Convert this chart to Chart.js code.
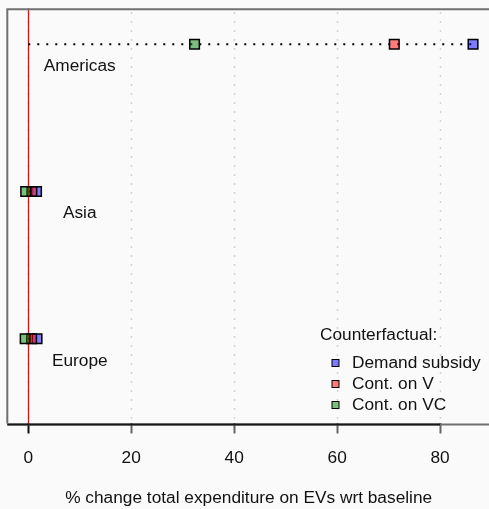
<!DOCTYPE html>
<html>
<head>
<meta charset="utf-8">
<script src="https://cdn.jsdelivr.net/npm/chart.js@4/dist/chart.umd.min.js"></script>
<style>
  html, body { margin: 0; padding: 0; background: #fafafa; }
  #wrap { width: 489px; height: 509px; }
</style>
</head>
<body>
<div id="wrap"><canvas id="c" width="489" height="509"></canvas></div>
<script>
// Regions, top to bottom, and their row positions on the value axis
const regions = ['Americas', 'Asia', 'Europe'];
const rowPos = [3, 2, 1];

// % change in total EV expenditure relative to baseline, per counterfactual
const demandSubsidy = [86.4, 1.6, 1.7];
const contOnV       = [71.1, 0.7, 0.65];
const contOnVC      = [32.3, -0.5, -0.6];

const seriesNames = ['Demand subsidy', 'Cont. on V', 'Cont. on VC'];
const xTicks = [0, 20, 40, 60, 80];
const legendTitle = 'Counterfactual:';
const xTitle = '% change total expenditure on EVs wrt baseline';

const FONT = 'Liberation Sans, Arial, Helvetica, sans-serif';
const FS = 17.3;
const fills = ['rgba(0,0,255,0.5)', 'rgba(255,0,0,0.5)', 'rgba(0,128,0,0.5)'];

const seriesValues = [demandSubsidy, contOnV, contOnVC];

// Dotted leader line for each region, from zero to its largest value
const leaderSets = regions.map((r, i) => ({
  type: 'line',
  label: 'leader-' + r,
  data: [{x: 0, y: rowPos[i]}, {x: Math.max(demandSubsidy[i], contOnV[i], contOnVC[i]), y: rowPos[i]}],
  borderColor: '#000',
  borderWidth: 2,
  borderDash: [2, 7],
  pointRadius: 0,
  fill: false,
  order: 10
}));

const pointSets = seriesNames.map((name, s) => ({
  type: 'scatter',
  label: name,
  data: regions.map((r, i) => ({x: seriesValues[s][i], y: rowPos[i]})),
  pointStyle: 'rect',
  pointRadius: 6.8,
  pointHoverRadius: 6.8,
  backgroundColor: fills[s],
  borderColor: '#000',
  borderWidth: 1.5,
  order: 5 - s
}));

// Let the plot run to the right edge of the canvas (frame's right side is off-canvas)
const fullWidth = {
  id: 'fullWidth',
  afterLayout(chart) {
    const x = chart.scales.x;
    const right = chart.width;
    x.right = right;
    x.width = right - x.left;
    chart.chartArea.right = right;
    chart.chartArea.width = right - chart.chartArea.left;
    x.configure();
  }
};

const decor = {
  id: 'decor',
  beforeDatasetsDraw(chart) {
    const {ctx, chartArea: a, scales: {x}} = chart;
    ctx.save();
    // light dotted vertical grid
    ctx.strokeStyle = '#c8c8c8';
    ctx.lineWidth = 1.5;
    ctx.setLineDash([1.5, 7.5]);
    xTicks.forEach(v => {
      const px = Math.round(x.getPixelForValue(v)) + 0.5;
      ctx.beginPath();
      ctx.moveTo(px, a.top + 4);
      ctx.lineTo(px, a.bottom);
      ctx.stroke();
    });
    ctx.setLineDash([]);
    // zero reference line
    const z = Math.round(x.getPixelForValue(0)) + 0.5;
    ctx.strokeStyle = '#ff0000';
    ctx.lineWidth = 1.3;
    ctx.beginPath();
    ctx.moveTo(z, a.top);
    ctx.lineTo(z, a.bottom);
    ctx.stroke();
    // region labels
    ctx.fillStyle = '#111';
    ctx.font = FS + 'px ' + FONT;
    ctx.textAlign = 'center';
    ctx.textBaseline = 'middle';
    const y = chart.scales.y;
    regions.forEach((r, i) => {
      ctx.fillText(r, x.getPixelForValue(10), y.getPixelForValue(rowPos[i] - 0.15));
    });
    ctx.restore();
  },
  afterDraw(chart) {
    const {ctx, chartArea: a, scales: {x}} = chart;
    ctx.save();
    // frame: grey left and top edges
    ctx.strokeStyle = '#707070';
    ctx.lineWidth = 2;
    ctx.beginPath();
    ctx.moveTo(a.left - 1, a.bottom);
    ctx.lineTo(a.left - 1, a.top + 1);
    ctx.lineTo(a.right + 2, a.top + 1);
    ctx.stroke();
    // bottom edge: grey frame with dark axis line over the tick range
    ctx.beginPath();
    ctx.moveTo(a.left - 1, a.bottom + 1);
    ctx.lineTo(a.right + 2, a.bottom + 1);
    ctx.stroke();
    ctx.strokeStyle = '#1a1a1a';
    ctx.beginPath();
    ctx.moveTo(a.left - 1, a.bottom + 1);
    ctx.lineTo(x.getPixelForValue(xTicks[xTicks.length - 1]), a.bottom + 1);
    ctx.stroke();
    // legend
    const lx = 320, ly = 335;
    ctx.font = FS + 'px ' + FONT;
    ctx.fillStyle = '#111';
    ctx.textAlign = 'left';
    ctx.textBaseline = 'middle';
    ctx.fillText(legendTitle, lx, ly);
    seriesNames.forEach((name, s) => {
      const yy = ly + 28 + s * 21;
      ctx.fillStyle = fills[s];
      ctx.fillRect(lx + 12, yy - 3.5, 7, 7);
      ctx.strokeStyle = '#000';
      ctx.lineWidth = 1;
      ctx.strokeRect(lx + 12, yy - 3.5, 7, 7);
      ctx.fillStyle = '#111';
      ctx.fillText(name, lx + 32, yy);
    });
    ctx.restore();
  }
};

new Chart(document.getElementById('c'), {
  data: { datasets: [...leaderSets, ...pointSets] },
  options: {
    responsive: false,
    animation: false,
    devicePixelRatio: 1,
    layout: { padding: { left: 8, top: 6, right: 0, bottom: 0 } },
    plugins: { legend: { display: false }, tooltip: { enabled: false } },
    scales: {
      x: {
        type: 'linear',
        min: -3.88,
        max: 89.5,
        afterBuildTicks: (scale) => { scale.ticks = xTicks.map(v => ({value: v})); },
        grid: {
          drawOnChartArea: false,
          drawTicks: true,
          tickLength: 10,
          tickWidth: 2,
          tickColor: (c) => (c.tick && c.tick.value === 0 ? '#111' : '#666')
        },
        border: { display: false },
        ticks: {
          color: '#111',
          font: { family: FONT, size: FS },
          padding: 14,
          maxRotation: 0
        },
        title: {
          display: true,
          text: xTitle,
          color: '#111',
          font: { family: FONT, size: FS },
          padding: { top: 6, bottom: 0 }
        }
      },
      y: {
        type: 'linear',
        display: false,
        min: 0.425,
        max: 3.244
      }
    }
  },
  plugins: [fullWidth, decor]
});
</script>
</body>
</html>
